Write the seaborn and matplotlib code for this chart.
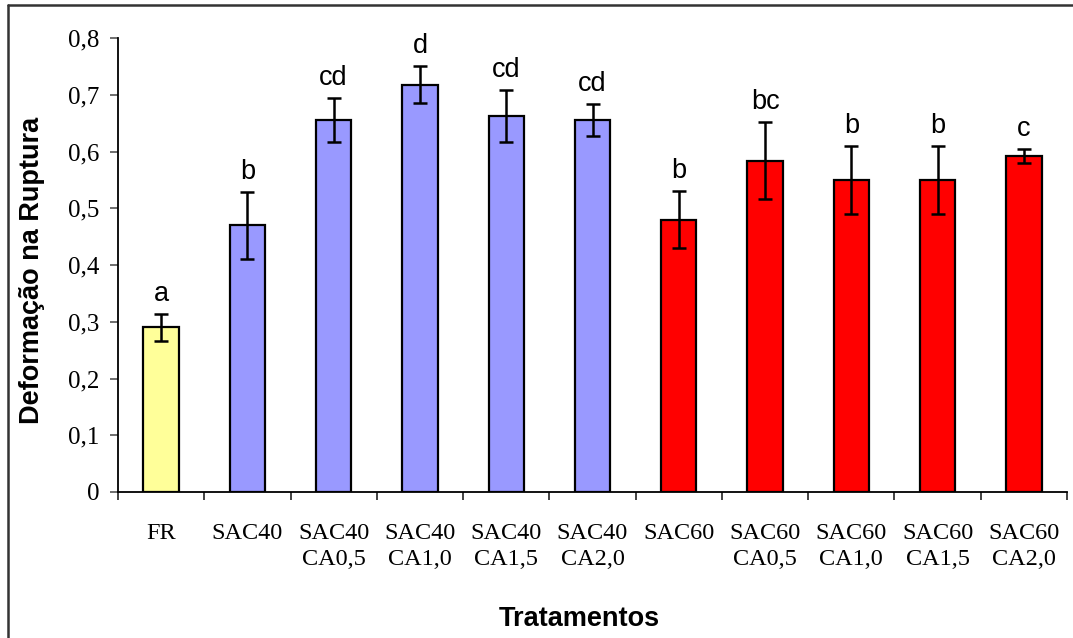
import matplotlib
matplotlib.use("Agg")
import matplotlib.pyplot as plt
from matplotlib.lines import Line2D
import numpy as np
import pandas as pd
import seaborn as sns

# Treatments, mean strain at rupture, standard deviations and Tukey letters
tratamentos = ["FR", "SAC40", "SAC40\nCA0,5", "SAC40\nCA1,0", "SAC40\nCA1,5",
               "SAC40\nCA2,0", "SAC60", "SAC60\nCA0,5", "SAC60\nCA1,0",
               "SAC60\nCA1,5", "SAC60\nCA2,0"]
deformacao = [0.29, 0.47, 0.655, 0.718, 0.662, 0.655, 0.48, 0.584, 0.55, 0.55, 0.592]
desvio = [0.024, 0.059, 0.039, 0.032, 0.046, 0.028, 0.05, 0.068, 0.06, 0.06, 0.012]
letras = ["a", "b", "cd", "d", "cd", "cd", "b", "bc", "b", "b", "c"]
cores = ["#FFFF99"] + ["#9999FF"] * 5 + ["#FF0000"] * 5
y_ticks = [0, 0.1, 0.2, 0.3, 0.4, 0.5, 0.6, 0.7, 0.8]
y_ticklabels = ["0", "0,1", "0,2", "0,3", "0,4", "0,5", "0,6", "0,7", "0,8"]

df = pd.DataFrame({"Tratamento": tratamentos, "Deformacao": deformacao})

sns.set_theme(style="white")
plt.rcParams["font.family"] = ["Liberation Sans", "DejaVu Sans"]

W, H = 1073, 638
fig = plt.figure(figsize=(W / 100, H / 100), dpi=100)
ax = fig.add_axes([118 / W, 1 - 492 / H, (1067 - 118) / W, (492 - 38) / H])

sns.barplot(data=df, x="Tratamento", y="Deformacao", hue="Tratamento",
            palette=cores, saturation=1, legend=False, width=0.41,
            edgecolor="black", linewidth=1.6, errorbar=None, ax=ax)

xpos = np.arange(len(tratamentos))
ax.errorbar(xpos, deformacao, yerr=desvio, fmt="none", ecolor="black",
            elinewidth=1.8, capsize=5.3, capthick=1.8, zorder=5)

for x, m, e, l in zip(xpos, deformacao, desvio, letras):
    ax.annotate(l, xy=(x, m + e), xytext=(0, 9.5), textcoords="offset points",
                ha="center", va="baseline", fontsize=19.5,
                family=["Liberation Sans", "DejaVu Sans"], color="black")

ax.set_xlim(-0.5, len(tratamentos) - 0.5)
ax.set_ylim(0, 0.8)
ax.set_yticks(y_ticks)
ax.set_yticklabels(y_ticklabels, family=["Liberation Serif", "DejaVu Serif"],
                   fontsize=18)
ax.set_xticks(xpos)
ax.set_xticklabels(tratamentos, family=["Liberation Serif", "DejaVu Serif"],
                   fontsize=17.5, linespacing=1.35)
ax.set_xticks(np.arange(-0.5, len(tratamentos)), minor=True)

ax.tick_params(axis="x", which="major", length=0, pad=22, colors="black")
ax.tick_params(axis="x", which="minor", length=5.5, width=1.2,
               direction="out", color="#222222", bottom=True)
ax.tick_params(axis="y", which="major", length=5.5, width=1.2, direction="out",
               color="#555555", pad=8, labelcolor="black", left=True)

for s in ["top", "right"]:
    ax.spines[s].set_visible(False)
for s in ["left", "bottom"]:
    ax.spines[s].set_color("black")
    ax.spines[s].set_linewidth(1.3)

ax.set_ylabel("Deformação na Ruptura", fontsize=19.5, fontweight="bold",
              color="black")
ax.set_xlabel("Tratamentos", fontsize=19.5, fontweight="bold", color="black")
ax.yaxis.set_label_coords(-0.077, 0.487)
ax.xaxis.set_label_coords(0.486, -0.252)

# Chart-area frame
fig.add_artist(Line2D([8 / W, 8 / W], [0, 1 - 5 / H], transform=fig.transFigure,
                      color="#333333", lw=1.8))
fig.add_artist(Line2D([8 / W, 1], [1 - 5 / H, 1 - 5 / H], transform=fig.transFigure,
                      color="#333333", lw=1.8))

fig.savefig("out.png", dpi=100, facecolor="white")
